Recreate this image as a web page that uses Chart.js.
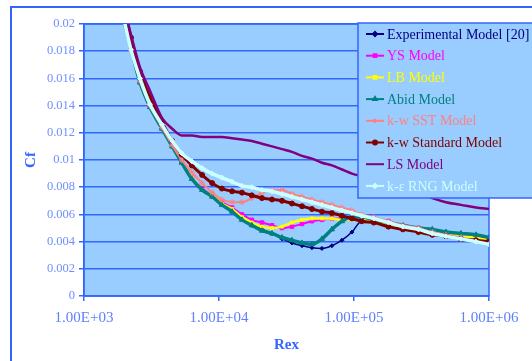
<!DOCTYPE html>
<html>
<head>
<meta charset="utf-8">
<script src="https://cdn.jsdelivr.net/npm/chart.js@4.4.1/dist/chart.umd.min.js"></script>
<style>
  html, body { margin: 0; padding: 0; background: #fff; }
  #grafico { display: block; }
</style>
</head>
<body>
<canvas id="grafico" width="532" height="361"></canvas>
<script>
// Rex values shared by all the models
const rex = [1950, 2230, 2600, 3080, 3780, 4500, 5300, 6300, 7500, 8900, 10500, 12500, 14800, 17500,
  20800, 24700, 29300, 34700, 41200, 48800, 57900, 68600, 81400, 96500, 114000, 140000, 180000,
  230000, 300000, 380000, 480000, 620000, 800000, 1000000];

// Cf for each model
const experimental = [0.0206, 0.0182, 0.0157, 0.0139, 0.0123, 0.0110, 0.0098, 0.0086, 0.0078, 0.0073, 0.0067, 0.0062, 0.0056, 0.0052,
  0.0049, 0.0046, 0.0042, 0.0039, 0.0037, 0.00355, 0.0035, 0.0037, 0.0041, 0.0047, 0.0055, 0.0055, 0.0053,
  0.0051, 0.0049, 0.0048, 0.0046, 0.0045, 0.0043, 0.0042];
const ysModel = [0.0206, 0.0182, 0.0157, 0.0139, 0.0123, 0.0110, 0.0098, 0.0087, 0.0079, 0.0074, 0.0069, 0.0065, 0.0060, 0.0056,
  0.0054, 0.0052, 0.0050, 0.0051, 0.0053, 0.0055, 0.0056, 0.0057, 0.0057, 0.0058, 0.0059, 0.0057, 0.0055,
  0.0052, 0.0050, 0.0048, 0.0046, 0.0045, 0.0043, 0.0042];
const lbModel = [0.0206, 0.0182, 0.0157, 0.0139, 0.0123, 0.0110, 0.0098, 0.0087, 0.0078, 0.0074, 0.0068, 0.0064, 0.0058, 0.0054,
  0.0051, 0.0050, 0.0051, 0.0054, 0.0056, 0.0057, 0.0057, 0.0057, 0.0056, 0.0056, 0.0056, 0.0055, 0.0053,
  0.0051, 0.0049, 0.0047, 0.0046, 0.0044, 0.0043, 0.0041];
const abidModel = [0.0205, 0.0182, 0.0157, 0.0139, 0.0123, 0.0110, 0.0098, 0.0086, 0.0078, 0.0073, 0.0067, 0.0062, 0.0056, 0.0052,
  0.0048, 0.0046, 0.0043, 0.0041, 0.0039, 0.0038, 0.0042, 0.0049, 0.0055, 0.0058, 0.0058, 0.0056, 0.0054,
  0.0052, 0.0050, 0.0049, 0.0047, 0.0046, 0.0045, 0.0043];
const kwSst = [0.0206, 0.0182, 0.0158, 0.0140, 0.0124, 0.0111, 0.0100, 0.0091, 0.0083, 0.0076, 0.0071, 0.0069, 0.0069, 0.0072,
  0.0076, 0.0078, 0.0078, 0.0075, 0.0073, 0.0071, 0.0069, 0.0067, 0.0065, 0.0063, 0.0060, 0.0058, 0.0055,
  0.0052, 0.0050, 0.0047, 0.0045, 0.0043, 0.0041, 0.0039];
const kwStandard = [0.0215, 0.0190, 0.0165, 0.0146, 0.0128, 0.0114, 0.0104, 0.0096, 0.0089, 0.0083, 0.0079, 0.0077, 0.0076, 0.0074,
  0.0072, 0.0071, 0.0070, 0.0068, 0.0066, 0.0064, 0.0062, 0.0061, 0.0059, 0.0057, 0.0055, 0.0054, 0.0051,
  0.0049, 0.0047, 0.0045, 0.0044, 0.0042, 0.0041, 0.0040];
const lsModel = [0.0215, 0.0192, 0.0168, 0.0151, 0.0131, 0.0123, 0.0118, 0.0118, 0.0117, 0.0117, 0.0117, 0.0116, 0.0115, 0.0114,
  0.0112, 0.0110, 0.0108, 0.0106, 0.0103, 0.0101, 0.0098, 0.0096, 0.0093, 0.0090, 0.0088, 0.0085, 0.0082,
  0.0079, 0.0076, 0.0072, 0.0069, 0.0067, 0.0065, 0.0064];
const keRng = [0.0206, 0.0181, 0.0160, 0.0141, 0.0126, 0.0114, 0.0105, 0.0099, 0.0094, 0.0090, 0.0087, 0.0084, 0.0081, 0.0080,
  0.0078, 0.0077, 0.0075, 0.0073, 0.0071, 0.0069, 0.0067, 0.0065, 0.0063, 0.0061, 0.0059, 0.0057, 0.0054,
  0.0051, 0.0049, 0.0046, 0.0044, 0.0042, 0.0040, 0.0038];

// ejes
const xTickValues = [1e3, 1e4, 1e5, 1e6];
const xTickLabels = ["1.00E+03", "1.00E+04", "1.00E+05", "1.00E+06"];
const yTickValues = [0, 0.002, 0.004, 0.006, 0.008, 0.01, 0.012, 0.014, 0.016, 0.018, 0.02];
const yTickLabels = ["0", "0.002", "0.004", "0.006", "0.008", "0.01", "0.012", "0.014", "0.016", "0.018", "0.02"];

const series = [
  { label: "Experimental Model [20]", data: experimental, color: "#000080", width: 1.5, marker: "rectRot", size: 2 },
  { label: "YS Model", data: ysModel, color: "#ff00ff", width: 2, marker: "rect", size: 2.5 },
  { label: "LB Model", data: lbModel, color: "#ffff00", width: 2.5, marker: "rect", size: 2 },
  { label: "Abid Model", data: abidModel, color: "#008080", width: 3.5, marker: "triangle", size: 3 },
  { label: "k-w SST Model", data: kwSst, color: "#ff8080", width: 2, marker: "star", size: 3 },
  { label: "k-w Standard Model", data: kwStandard, color: "#800000", width: 3, marker: "circle", size: 2.5 },
  { label: "LS Model", data: lsModel, color: "#800080", width: 2.5, marker: null, size: 0 },
  { label: "k-ε RNG Model", data: keRng, color: "#ccffff", width: 3.5, marker: "rectRot", size: 2.5 }
];

const azul = "#3366ff";
const serif = "'Liberation Serif', 'Times New Roman', serif";

// fondo, bordes y leyenda
const decoracion = {
  id: "decoracion",
  beforeDraw(chart) {
    const { ctx, chartArea: a } = chart;
    ctx.save();
    ctx.fillStyle = "#ffffff";
    ctx.fillRect(0, 0, chart.width, chart.height);
    ctx.strokeStyle = azul;
    ctx.lineWidth = 2;
    ctx.beginPath();
    ctx.moveTo(11, chart.height);
    ctx.lineTo(11, 7);
    ctx.lineTo(chart.width, 7);
    ctx.stroke();
    ctx.fillStyle = "#99ccff";
    ctx.fillRect(a.left, a.top, a.right - a.left, a.bottom - a.top);
    ctx.restore();
  },
  beforeDatasetsDraw(chart) {
    const { ctx, chartArea: a } = chart;
    ctx.save();
    ctx.strokeStyle = azul;
    ctx.lineWidth = 1.5;
    ctx.strokeRect(a.left, a.top, a.right - a.left, a.bottom - a.top);
    ctx.restore();
  },
  afterDraw(chart) {
    const ctx = chart.ctx;
    ctx.save();
    ctx.fillStyle = "#99ccff";
    ctx.fillRect(358, 23, 180, 175);
    ctx.strokeStyle = azul;
    ctx.lineWidth = 1.5;
    ctx.strokeRect(358, 23, 180, 175);
    ctx.font = "14px " + serif;
    ctx.textBaseline = "middle";
    series.forEach((s, i) => {
      const y = 34 + i * 21.7;
      ctx.strokeStyle = s.color;
      ctx.lineWidth = 2;
      ctx.beginPath();
      ctx.moveTo(366, y);
      ctx.lineTo(384, y);
      ctx.stroke();
      if (s.marker) {
        ctx.fillStyle = s.color;
        Chart.helpers.drawPoint(ctx, { pointStyle: s.marker, radius: 2, rotation: 0, borderWidth: 1 }, 375, y);
      }
      ctx.fillStyle = s.color;
      ctx.fillText(s.label, 387, y + 1);
    });
    ctx.restore();
  }
};

new Chart(document.getElementById("grafico"), {
  type: "line",
  data: {
    datasets: series.map((s, i) => ({
      label: s.label,
      data: rex.map((x, j) => ({ x: x, y: s.data[j] })),
      borderColor: s.color,
      backgroundColor: s.color,
      borderWidth: s.width,
      pointStyle: s.marker || "circle",
      pointRadius: s.size,
      pointBorderWidth: 1,
      cubicInterpolationMode: "monotone",
      order: series.length - i
    }))
  },
  options: {
    responsive: false,
    animation: false,
    devicePixelRatio: 1,
    layout: { padding: { left: 0, top: 24, right: 43, bottom: 0 } },
    plugins: { legend: { display: false }, tooltip: { enabled: false } },
    scales: {
      x: {
        type: "logarithmic",
        min: 1000,
        max: 1000000,
        afterBuildTicks: (scale) => { scale.ticks = xTickValues.map((v) => ({ value: v })); },
        afterFit: (scale) => { scale.height = 65; },
        ticks: {
          callback: (v, i) => xTickLabels[i],
          color: "#5f80ff",
          font: { family: serif, size: 15 },
          padding: 8,
          maxRotation: 0,
          autoSkip: false
        },
        grid: { drawOnChartArea: false, color: azul, lineWidth: 1.5, tickLength: 5 },
        border: { color: azul, width: 1.5 },
        title: {
          display: true,
          text: "Rex",
          color: azul,
          font: { family: serif, size: 15, weight: "bold" },
          padding: { top: 0, bottom: 7 }
        }
      },
      y: {
        min: 0,
        max: 0.02,
        afterBuildTicks: (scale) => { scale.ticks = yTickValues.map((v) => ({ value: v })); },
        afterFit: (scale) => { scale.width = 84; },
        ticks: {
          callback: (v, i) => yTickLabels[i],
          color: "#6f8fff",
          font: { family: serif, size: 12.5 },
          padding: 4
        },
        grid: { color: azul, lineWidth: 1.5, tickLength: 5 },
        border: { color: azul, width: 1.5 },
        title: {
          display: true,
          text: "Cf",
          color: azul,
          font: { family: serif, size: 15, weight: "bold" },
          padding: { top: 22, bottom: 0 }
        }
      }
    }
  },
  plugins: [decoracion]
});
</script>
</body>
</html>
